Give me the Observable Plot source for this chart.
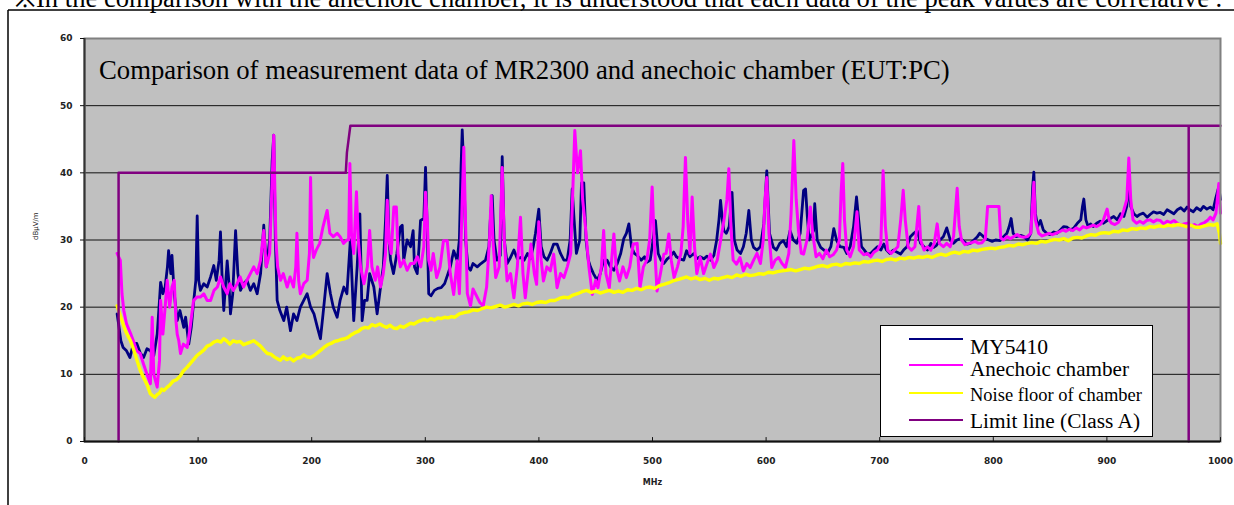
<!DOCTYPE html>
<html><head><meta charset="utf-8">
<script src="https://cdn.jsdelivr.net/npm/d3@7"></script>
<script src="https://cdn.jsdelivr.net/npm/@observablehq/plot@0.6"></script>
<style>
html,body{margin:0;padding:0;background:#fff;overflow:hidden}
#wrap{position:relative;width:1234px;height:505px;overflow:hidden}
#ov{position:absolute;left:0;top:0;pointer-events:none}
</style></head>
<body><div id="wrap"></div>
<script>
// ---- data (MHz, dBµV/m) ----
const my5410 = [[28.7,19],[30,17.5],[32,15],[34,14],[37,13.5],[40,12.5],[43,14.5],[46,14.6],[49,13.2],[52,12.5],[55,13.8],[58,13.5],[61,12.8],[64,16],[66,21],[67,23.7],[69,22],[71,23],[73,26],[74,28.4],[76,25],[77,27.7],[79,22],[81.6,18],[84,19.5],[87.4,17],[89,18.5],[91.8,14.5],[94,17],[96.2,21],[98,24],[99.2,33.6],[100.5,24],[102,22.5],[105,23.5],[108,23],[111,24.5],[113.8,26.2],[116,24],[118.5,27],[119.7,31.2],[121,25],[122.6,19.5],[124,23],[125.6,26.9],[127,24],[128.5,19],[130.5,22],[133,31.4],[135,25],[137.3,22.5],[140,23.5],[143,24],[146,22.5],[149,23.5],[152,22],[155,25],[157.8,32.2],[160,26],[163,30],[165.2,41.8],[166.6,45.6],[168,30],[169.6,21],[172,19.5],[175.4,18],[178,20],[181.3,16.5],[184,19],[187,18],[190,20],[193,21],[196,22],[199,20],[202,19],[205,17],[207.7,15.3],[210,19],[213.6,25],[216.5,22],[219,20],[222.4,18.5],[225,21],[228.3,23],[231,22],[234,30],[237,18],[240,26],[242.4,33.9],[244.4,18],[246.5,21],[248.8,21],[251,25],[254.7,23],[257.6,19],[260.6,23],[263,26],[265,33],[266.5,39.6],[268,30],[269.4,27],[272,25],[275,28],[278,31.9],[279.7,32.2],[281,27],[284,30],[287,29],[289.3,31.4],[290.5,26],[292.9,25],[294.5,29],[295.8,32.9],[298.7,33.2],[300.2,40.8],[301.5,32.9],[303,22],[305,21.7],[308,22.5],[311,22.8],[314,22.9],[317,23.5],[320,25],[322,26],[325,28.4],[328,27],[330,30],[331.5,41],[332.5,46.4],[334,40],[335.5,30],[337.5,26],[339.8,25.5],[342,26.5],[345.7,26],[349,26.5],[353,27],[356,29],[357.2,32.9],[358.9,36.6],[360.5,30],[363,27],[366,27.7],[367.7,42.4],[369.5,30],[372,26.5],[375,27.4],[378,28.5],[381,27.2],[383.8,27.4],[387,27],[390,28],[392.6,27.2],[395,29],[397,31],[399.9,34.6],[402,29],[404.5,27.5],[407.3,27],[410,28],[413,29.4],[416,29.4],[419,28],[422,27],[424.9,27],[427.5,30],[429.3,37.6],[431,33],[433,28],[436,30],[437.5,38.5],[439.5,38.5],[441.5,30],[443.5,27],[445.4,26],[448,25],[451.3,24],[454,25],[457,27],[460,27],[463,26],[466,25.5],[469,26.5],[472,28],[474.7,30.2],[477,31],[479.2,32.4],[481.5,29],[484,28],[486.5,27.7],[490,27],[493,27.5],[495.3,26.7],[498,27],[500.5,30],[502.6,32.9],[505,28],[507.5,27],[510,26.5],[513,27.2],[515.5,27.5],[518.7,28.2],[521,27.5],[524,27.2],[527.5,27],[530,28.4],[533,27.5],[536.4,28],[539,27.2],[542,27.5],[545.2,27.2],[548,27.6],[551,27],[554,27.7],[556.5,30],[558.5,33],[559.9,35.9],[561.5,33],[562.8,31.4],[565,31],[567.5,32],[570,37.1],[572,30],[574.5,28.5],[577.5,28],[580,29],[582.5,31],[584.8,34.4],[587,30],[589,28.9],[592,28.5],[595,29],[598,32.4],[600.6,40.3],[603,31],[606.4,28.9],[609,28.5],[612,29.5],[615.2,29.9],[618,29],[621.1,31.4],[624,30],[627,29.5],[630,31],[633,37.4],[634.7,37.6],[636.5,33],[638,30],[641.8,31.4],[642.8,35.4],[645,30],[648,28.9],[651,28.5],[654,28],[657,29],[659.6,31.7],[662,30],[665,29],[668.4,28.9],[671,28],[674,29],[677,32],[679.6,36.4],[681.5,33],[684,29],[686.5,28.5],[689,27.9],[692,28],[695,28.5],[698,29],[701,28.5],[703.6,29.4],[706,28.5],[709,28],[712,28.5],[715,28.2],[718.3,27.9],[721,28.5],[724,29],[727,30.5],[730,31],[733,31.4],[736,29.5],[739,29],[742,28.5],[745,29.5],[747.6,28.9],[750,29.2],[753,30],[756,30.5],[759,31.8],[762.3,29.9],[765,29.5],[768,30],[771,30.2],[774,29.8],[777,29.4],[780,29.5],[783,30],[786,30.5],[788,31],[790.1,30.7],[793,30.2],[796,30],[799,29.8],[802,30],[806,29.9],[809,30.5],[812,31],[814,32],[815.7,33.2],[817.5,31],[820,30.5],[824,30.7],[827,30.5],[830,30],[833,31],[834.7,38],[835.7,40.1],[837,34],[839,32],[841.5,32.9],[844,31.5],[847,31],[850,30.8],[853.3,31.2],[856,31],[859,31.5],[862,32],[865,31.9],[868,31.5],[871,31.8],[874,32.5],[877,33],[878.5,35],[879.7,36.1],[881.5,33],[883.5,32],[885.6,32.4],[888,32],[891,32.5],[894,32.8],[897,32.5],[900.2,32.9],[903,33.2],[906,33.5],[909,33],[912,33.9],[915,33.5],[917.5,35],[919.3,38.4],[921,35],[923.7,33.9],[926.5,33.5],[929,33.8],[932,34],[935.5,33.4],[938,33.8],[941,34.2],[944,34],[947,34.1],[950,33.8],[953,34.5],[956,34.2],[958.9,33.9],[962,34.5],[965,34.8],[968,34.3],[970.6,34.9],[973,34.5],[976,34.2],[979,34.8],[982.4,34.4],[985,35],[988,34.6],[991,34.9],[993.5,34.5],[995.5,36],[997,37],[998.5,37.9],[1000,36]];

const anechoic = [[28.7,28],[30,27.5],[31.5,27],[33,22],[34.6,19.5],[37,17.5],[40.5,16.1],[43,15],[46,13.5],[49,13.1],[52,11.5],[55,10],[58,8.6],[59.6,18.5],[61,10],[64,8.1],[66,12],[67,21],[69,16],[71,20],[72.8,24],[75,20],[77,23],[79,24],[80.5,18],[81.6,16],[83,15],[84.5,13.1],[87,14.5],[90.4,14],[93,17],[96,21],[99,21.5],[102,21.5],[105,22],[108,21],[111,21],[114,22.5],[117,23],[119.7,24.5],[122.5,23],[125.6,22],[128,23.5],[131,22.5],[134.4,23.5],[137,24.5],[140,23],[143,24],[146,25],[149,26],[152,25],[155,27],[157.8,31.4],[160,26],[163,28],[165,38],[166.6,45.6],[168.5,30],[170,26],[172.5,24],[175,25],[178.4,23],[181,24.5],[184,23],[186,26],[187,31],[188.5,24],[190,22],[193,23.5],[196,24],[198,28],[199,39.3],[200,30],[201.6,27.4],[204,28.5],[207,29.5],[210,32],[213.6,34.4],[216,31],[219,30.5],[222.4,31],[225,30.5],[228,29.5],[231,30],[232.5,30],[233.6,41.4],[235,31],[237,28],[239.4,37.2],[241,30],[243,26],[246,23.5],[249,26],[251,31.4],[253,26],[256,24],[258,26],[260.6,23],[263,25],[265,28],[266.5,35.9],[268,30],[270,28],[272.3,34.9],[274.5,34.9],[276,28],[278,26],[281,27],[284,25.5],[287,26.5],[290,26.5],[293,27.5],[296,26],[298.7,29],[300.2,37.1],[301.7,32.9],[303,27],[305,25.5],[307,28],[310,24.4],[313,26],[316,29.9],[319.3,29.9],[322,25],[325,21.9],[328,26.9],[330,22],[331.5,30],[333.9,43.8],[335.5,32],[337,22],[339.8,20.2],[342,22.7],[345,21.7],[348,20.7],[351,20.2],[354,23],[356.5,30],[358,36.6],[359.5,30],[362,24.4],[365,26],[367.7,40.8],[369.5,30],[372,23.9],[375,25],[378,21.4],[381,26],[383.8,33.4],[386,25],[388,21.4],[391,26],[393,29.4],[396,25],[398,23.4],[399.9,32.7],[402,27],[404,23.9],[407,26],[410,25.4],[413,27.9],[416,22.9],[419,25],[422,24.4],[425,26],[428,28],[431.6,46.3],[434,40],[436.6,43.3],[438.5,36],[441,31.9],[444,26],[447,21.9],[450,24],[452,22.9],[455,26],[457,31.4],[459,25],[462,22.9],[464,27],[466,30.9],[468,26],[471,23.9],[474,26],[477,24.4],[480,26],[483,29.4],[486.5,29.5],[489,22.9],[492,26],[495,27],[497.5,30],[499.7,37.9],[501.5,30],[504,22.4],[507,25],[510,27.9],[512,28],[514.4,30.9],[516.5,27],[519,24.4],[522,26],[525,28],[527,32],[529,42.3],[531,33],[533,28],[534.9,36.4],[537,29],[539,25],[542,27.4],[545,25],[548,26.5],[551,27.9],[554,25.9],[557,27],[560,30],[563,33],[565.5,36],[567.2,40.6],[569,32],[571,27],[574,26.4],[577,27.4],[580,25.4],[583,26.5],[586,25.9],[589,27],[592,28],[595,26.5],[597.5,30],[599,36],[600.6,39.3],[602.5,31],[605,25.9],[608,27],[611,27.4],[614,26.5],[617,25.9],[620,28],[622,34],[624.4,44.8],[626.5,36],[628.5,31.4],[631,28],[633,27.9],[636,30],[639,34.9],[641,31],[644,27.5],[647,28],[650,27.2],[653,28.5],[656,27.5],[659,27.8],[662,28.5],[664.5,30],[666,37],[667.5,41.4],[669,33],[671,28.5],[674,27.5],[677,29],[680,34.2],[682,28.5],[686,27.8],[689,28],[692,27.5],[695,28.2],[698,28.5],[701,29.5],[703,40.3],[705,32],[707,28.5],[710,28],[713,28.5],[716,29],[718.5,33],[720.7,37.4],[722.5,33],[725,29],[728,28.5],[731,29],[734.4,35],[736,30],[739,28.5],[742,29],[745,28.5],[748,29.5],[750.6,32.4],[752.5,29.5],[756,29],[759,29.5],[762,29],[765,30.5],[768.2,37.7],[770,32],[772,30],[775,29.3],[778,29.5],[781,29.6],[784,29.8],[787,29.5],[790,29.6],[793,30.2],[795,35],[805,35],[806.5,30.3],[809,30],[812,30.5],[815,30.2],[818,30.5],[821,30.8],[824,30.5],[827,30.4],[830,30.5],[833,31],[834.8,36],[835.7,38.6],[837,33],[840,31],[843,30.6],[846,30.8],[849,31],[852,30.8],[855,31],[858,31.2],[861,31.5],[864,31.3],[867,31.6],[870,31.4],[873,31.8],[876,31.5],[879,32],[882,31.8],[885,32],[888,32.2],[891,32],[894,32.3],[897,33],[900.2,34.6],[902,33],[904,32.5],[907,32.3],[910,32.6],[913,33.5],[915,34.5],[917.5,36],[919.3,42.2],[921,36],[923,33],[926,32.5],[929,32.8],[932,32.5],[935,32.9],[938,33],[941,32.7],[944,33],[947,32.9],[950,32.4],[953,32.8],[956,32.6],[959,32.9],[962,32.5],[965,32.2],[968,32.4],[971,32.5],[974,32.1],[977,32.3],[980,32],[983,32.4],[986,32.6],[989,33],[991,33.4],[993.5,33],[996,34],[998.5,38.4],[1000,34]];

const noiseFloor = [[28.7,20.2],[30,19.5],[32,18.5],[34,17.5],[36,16.5],[38,15.8],[40.5,15],[43,13.8],[46,12.2],[49,10.6],[52,9.5],[55,8.5],[58,7.1],[60,6.8],[62,6.6],[64,7],[66,7.2],[68,7.8],[70,7.6],[72.8,8.1],[75,8.4],[78,9],[81,9.2],[84.5,9.8],[87,10.5],[90,11],[93,11.6],[96,12.2],[99,12.8],[102,13.2],[105,13.6],[108,14.2],[111,14.4],[113.8,14.8],[117,15],[120,14.8],[122.5,15.3],[125,15],[128,14.5],[131,15],[134,14.8],[137,14.9],[140,14.4],[143,14.6],[146,14.8],[149,15],[152,14.6],[155,14.2],[158,13.6],[161,13.1],[164,13],[167,12.6],[170,12.3],[172.5,12.1],[175,12.6],[178,12.2],[181,12.4],[184,12],[187,12.4],[190,12.5],[193,12.9],[196,12.6],[199,12.5],[202,12.8],[205,13.2],[208,13.6],[210.7,14],[214,14.4],[217,14.6],[220,14.9],[223,15],[226,15.2],[229,15.3],[232,15.5],[235,15.9],[238,16.2],[241,16.4],[244,16.8],[247,17],[250,16.9],[253,17.4],[256,17.2],[260,17.5],[263,17.2],[266,17],[269,17.3],[272,16.9],[275,16.8],[278,17.2],[281,17],[284,17.3],[287,17.6],[290,17.5],[293,17.8],[296,18],[299,18.2],[302,18],[305,18.3],[308,18.1],[311,18.4],[314,18.3],[317,18.5],[320,18.4],[323,18.6],[326,18.5],[330,19],[334,19.2],[338,19.3],[342,19.6],[346,19.5],[350,19.8],[354,20],[358,19.9],[362,20.1],[366,20.3],[370,20],[374,20.2],[378,20.4],[382,20.2],[386,20.5],[390,20.6],[394,20.4],[398,20.7],[402,20.8],[406,20.7],[410,21],[414,21],[418,21.3],[422,21.5],[426,21.4],[430,21.8],[434,22],[438,22.3],[442,22.5],[446,22.2],[450,22.4],[454,22.1],[458,22.3],[462,22.5],[466,22.2],[470,22.4],[474,22.2],[478,22.6],[482,22.5],[486,22.8],[490,22.6],[494,22.9],[498,23],[502,22.8],[506,23.2],[510,23.4],[514,23.6],[518,23.9],[522,24.1],[526,24.3],[530,24.5],[534,24.2],[538,24.4],[542,24.1],[546,24.3],[550,24],[554,24.3],[558,24.2],[562,24.4],[566,24.6],[570,24.4],[574,24.8],[578,24.6],[582,24.9],[586,24.7],[590,24.8],[594,25],[598,24.9],[602,25.2],[606,25.1],[610,25.3],[614,25.4],[618,25.5],[622,25.6],[626,25.4],[630,25.6],[634,25.8],[638,25.7],[642,25.9],[646,26.1],[650,26.2],[654,26],[658,26.3],[662,26.4],[666,26.2],[670,26.5],[674,26.4],[678,26.6],[682,26.5],[686,26.8],[690,26.7],[694,26.9],[698,27],[702,26.8],[706,27.1],[710,27.2],[714,27],[718,27.3],[722,27.2],[726,27.4],[730,27.3],[734,27.5],[738,27.4],[742,27.6],[746,27.4],[750,27.7],[754,27.9],[758,27.7],[762,28],[766,28.2],[770,28],[774,28.3],[778,28.2],[782,28.5],[786,28.4],[790,28.6],[794,28.7],[798,28.8],[802,28.7],[806,28.9],[810,29],[814,29.2],[818,29.1],[822,29.4],[826,29.3],[830,29.5],[834,29.6],[838,29.5],[842,29.8],[846,29.7],[850,29.9],[854,30.1],[858,30],[862,30.2],[866,29.9],[870,30.3],[874,30.4],[878,30.3],[882,30.6],[886,30.8],[890,30.7],[894,31],[898,31.1],[902,31],[906,31.3],[910,31.2],[914,31.5],[918,31.4],[922,31.7],[926,31.6],[930,31.8],[934,31.7],[938,32],[942,31.9],[946,32.1],[950,32],[954,32.2],[958,32.1],[962,32.3],[966,32.2],[970,32],[974,32.2],[978,31.9],[982,31.9],[986,32.1],[990,32.3],[994,32.2],[997,32.4],[999,31],[1000,29.5]];

const limitLine = [[30,0],[30,40],[230,40],[231,43],[234,47],[972,47],[972,0],[972,47],[1000,47]];

const xTicks = [0,100,200,300,400,500,600,700,800,900,1000];
const yTicks = [0,10,20,30,40,50,60];
const seriesNames = ["MY5410","Anechoic chamber","Noise floor of chamber","Limit line (Class A)"];
const seriesColors = ["#000080","#ff00ff","#ffff00","#800080"];
const chartTitle = "Comparison of measurement data of MR2300 and anechoic chamber (EUT:PC)";
const noteText = "※In the comparison with the anechoic chamber, it is understood that each data of the peak values are correlative .";
const xLabel = "MHz";
const yLabel = "dBμV/m";

// ---- chart ----
const fx = d => d[0], fy = d => d[1];
const tickShape = {draw(ctx, l) { ctx.moveTo(0, 0); ctx.lineTo(0, -l); }};
const chart = Plot.plot({
  width: 1234, height: 505,
  marginLeft: 84, marginRight: 14, marginTop: 38, marginBottom: 64,
  style: {fontFamily: "'DejaVu Sans', sans-serif", fontSize: "9px", background: "transparent", color: "#222"},
  x: {domain: [0, 1000]},
  y: {domain: [0, 60]},
  marks: [
    Plot.frame({fill: "#c0c0c0"}),
    Plot.gridY(yTicks.filter(t => t > 0 && t < 60), {stroke: "#111", strokeOpacity: 1, strokeWidth: 1}),
    Plot.line(my5410, {x: fx, y: fy, stroke: seriesColors[0], strokeWidth: 2.8}),
    Plot.line(anechoic, {x: fx, y: fy, stroke: seriesColors[1], strokeWidth: 3}),
    Plot.line(noiseFloor, {x: fx, y: fy, stroke: seriesColors[2], strokeWidth: 3.4}),
    Plot.line(limitLine, {x: fx, y: fy, stroke: seriesColors[3], strokeWidth: 2.5, curve: "linear"}),
    Plot.frame({stroke: "#808080", strokeWidth: 2}),
    Plot.ruleX([0], {stroke: "#333", strokeWidth: 2}),
    Plot.ruleY([0], {stroke: "#111", strokeWidth: 2}),
    Plot.vector(xTicks, {x: d => d, frameAnchor: "bottom", length: 4, anchor: "start", shape: tickShape, stroke: "#111", strokeWidth: 1}),
    Plot.axisY(yTicks, {tickSize: 4, tickPadding: 8, label: null, fontWeight: "bold", stroke: "#111", tickFormat: d => String(d)}),
    Plot.axisX(xTicks, {tickSize: 0, tickPadding: 16, label: null, fontWeight: "bold", tickFormat: d => String(d)}),
    Plot.text([xLabel], {frameAnchor: "bottom", dy: 43, fontWeight: "bold", fontSize: 8}),
    Plot.text([yLabel], {frameAnchor: "left", dx: -49, rotate: -90, fontSize: 7})
  ]
});
const wrap = document.getElementById("wrap");
wrap.appendChild(chart);

// ---- overlay: note, frame, title, legend ----
const NS = "http://www.w3.org/2000/svg";
const ov = document.createElementNS(NS, "svg");
ov.setAttribute("id", "ov"); ov.setAttribute("width", 1234); ov.setAttribute("height", 505);
wrap.appendChild(ov);
function el(tag, attrs, text) {
  const e = document.createElementNS(NS, tag);
  for (const k in attrs) e.setAttribute(k, attrs[k]);
  if (text != null) e.textContent = text;
  ov.appendChild(e); return e;
}
function fitText(t, width) {
  const w = t.getComputedTextLength();
  const fs = parseFloat(t.getAttribute("font-size"));
  t.setAttribute("font-size", (fs * width / w).toFixed(2));
}
const serif = "'Liberation Serif', 'Times New Roman', serif";
const note = el("text", {x: 14, y: 7, "font-family": serif, "font-size": 22, fill: "#000"}, noteText);
fitText(note, 1208);
el("line", {x1: 8, y1: 10, x2: 1234, y2: 10, stroke: "#000", "stroke-width": 1.5});
el("line", {x1: 8, y1: 10, x2: 8, y2: 505, stroke: "#000", "stroke-width": 1.5});
const title = el("text", {x: 99, y: 78.5, "font-family": serif, "font-size": 26.5, fill: "#000"}, chartTitle);
fitText(title, 851);
// legend
el("rect", {x: 880.5, y: 325.5, width: 272, height: 111, fill: "#fff", stroke: "#000", "stroke-width": 1});
const rowsY = [339, 365, 393, 420];
const textY = [354, 375.7, 400.7, 428.3];
const textW = [78, 159, 172, 170];
const textFs = [21.5, 21, 18.5, 21];
seriesNames.forEach((n, i) => {
  el("line", {x1: 909, x2: 963, y1: rowsY[i], y2: rowsY[i], stroke: seriesColors[i], "stroke-width": 2});
  const t = el("text", {x: 970, y: textY[i], "font-family": serif, "font-size": textFs[i], fill: "#000"}, n);
  fitText(t, textW[i]);
});
</script>
</body></html>
